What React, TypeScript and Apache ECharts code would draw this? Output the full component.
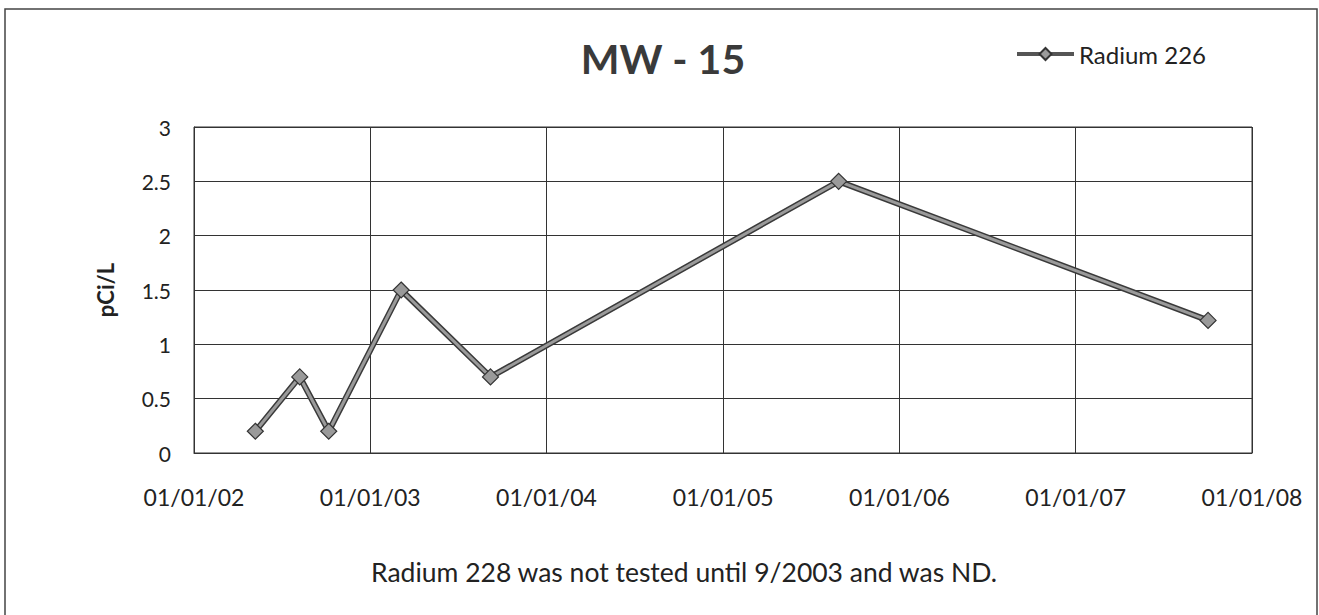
import React, { useEffect, useRef } from "react";
import * as echarts from "echarts";

const sampleDates = ["2002-05-08", "2002-08-08", "2002-10-07", "2003-03-06", "2003-09-07", "2005-08-28", "2007-10-02"];
const radium226 = [0.2, 0.7, 0.2, 1.5, 0.7, 2.5, 1.22];
const titleText = "MW - 15";
const seriesName = "Radium 226";
const yAxisName = "pCi/L";
const footnote = "Radium 228 was not tested until 9/2003 and was ND.";
const xStart = "2002-01-01";
const xEnd = "2008-01-01";
const yMin = 0;
const yMax = 3;
const yStep = 0.5;

const FONT = "Lato, 'Open Sans', sans-serif";

function pad(n: number) {
  return n < 10 ? "0" + n : String(n);
}

export default function App() {
  const ref = useRef<HTMLDivElement>(null);
  useEffect(() => {
    if (!ref.current) return;
    const chart = echarts.init(ref.current, null, { renderer: "svg" });
    const pts = sampleDates.map((d, i) => [d, radium226[i]]);
    const toTs = (s: string) => {
      const [y, m, d] = s.split("-").map(Number);
      return new Date(y, m - 1, d).getTime();
    };
    chart.setOption({
      animation: false,
      backgroundColor: "#ffffff",
      textStyle: { fontFamily: FONT },
      title: {
        text: titleText,
        left: 658,
        top: 33,
        textAlign: "center",
        textStyle: { fontFamily: FONT, fontSize: 41, fontWeight: "bold", color: "#3a3a3a" },
      },
      legend: {
        data: [seriesName],
        left: 1010,
        top: 37,
        itemWidth: 57,
        itemHeight: 15,
        itemGap: 4,
        lineStyle: { color: "#555", width: 4 },
        textStyle: { fontFamily: FONT, fontSize: 24, color: "#222" },
      },
      grid: {
        left: 194,
        right: 67,
        top: 127,
        bottom: 162,
        show: true,
        borderColor: "#333",
        borderWidth: 1,
        containLabel: false,
      },
      xAxis: {
        type: "time",
        min: toTs(xStart),
        max: toTs(xEnd),
        splitNumber: 6,
        minInterval: 365 * 24 * 3600 * 1000,
        axisLine: { show: true, lineStyle: { color: "#333", width: 1 } },
        axisTick: { show: false },
        splitLine: { show: true, lineStyle: { color: "#333", width: 1 } },
        axisLabel: {
          show: true,
          margin: 32,
          fontFamily: FONT,
          fontSize: 23,
          color: "#222",
          showMinLabel: true,
          showMaxLabel: true,
          hideOverlap: false,
          formatter: (v: number) => {
            const d = new Date(v);
            return pad(d.getMonth() + 1) + "/" + pad(d.getDate()) + "/" + String(d.getFullYear()).slice(2);
          },
        },
      },
      yAxis: {
        type: "value",
        min: yMin,
        max: yMax,
        interval: yStep,
        name: yAxisName,
        nameLocation: "middle",
        nameGap: 78,
        nameTextStyle: { fontFamily: FONT, fontSize: 22, fontWeight: "bold", color: "#222" },
        axisLine: { show: true, lineStyle: { color: "#333", width: 1 } },
        axisTick: { show: false },
        splitLine: { show: true, lineStyle: { color: "#333", width: 1 } },
        axisLabel: {
          margin: 23,
          fontFamily: FONT,
          fontSize: 21,
          color: "#222",
        },
      },
      series: [
        {
          name: "outline",
          type: "line",
          data: pts,
          symbol: "none",
          lineStyle: { color: "#3a3a3a", width: 6 },
          silent: true,
          z: 2,
        },
        {
          name: seriesName,
          type: "line",
          data: pts,
          symbol: "diamond",
          symbolSize: 16,
          itemStyle: { color: "#9a9a9a", borderColor: "#333", borderWidth: 1.2 },
          lineStyle: { color: "#9a9a9a", width: 3 },
          z: 3,
        },
      ],
      graphic: [
        {
          type: "rect",
          shape: { x: 5, y: 9, width: 1312, height: 640 },
          style: { fill: "none", stroke: "#444", lineWidth: 1.5 },
          silent: true,
        },
        {
          type: "text",
          x: 684,
          y: 572,
          style: {
            text: footnote,
            fontFamily: FONT,
            fontSize: 26.5,
            fill: "#222",
            textAlign: "center",
            textVerticalAlign: "middle",
          },
        },
      ],
    });
    return () => chart.dispose();
  }, []);
  return (
    <div
      ref={ref}
      style={{ position: "fixed", left: 0, top: 0, width: 1319, height: 615, background: "#fff" }}
    />
  );
}
